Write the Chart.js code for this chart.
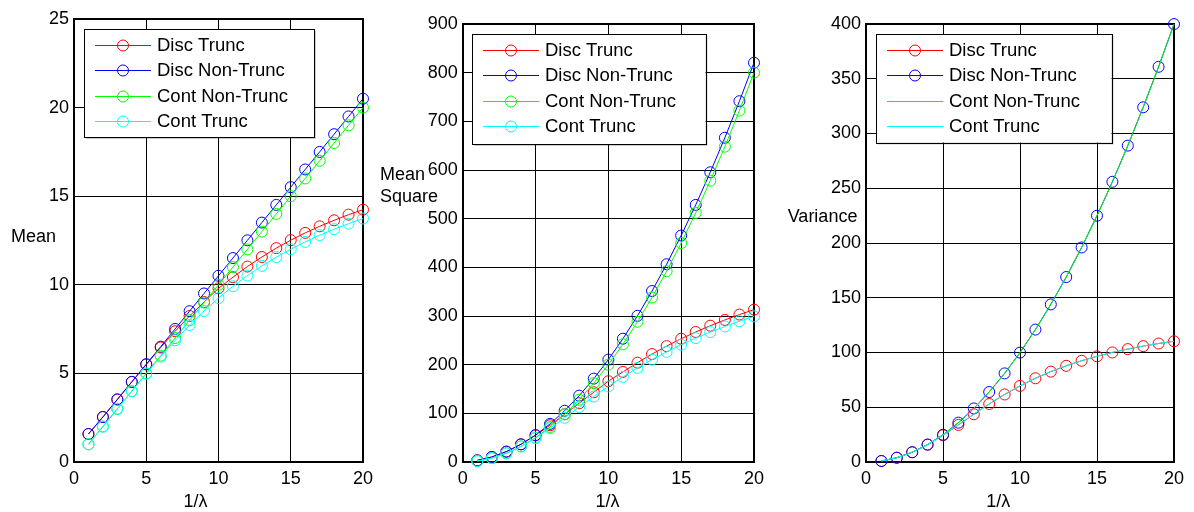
<!DOCTYPE html>
<html><head><meta charset="utf-8">
<script src="https://cdn.jsdelivr.net/npm/chart.js@4.4.1/dist/chart.umd.min.js"></script>
<style>
html,body{margin:0;padding:0;background:#fff}
body{width:1194px;height:512px;overflow:hidden;position:relative}
canvas{position:absolute;top:0}
</style></head><body>
<canvas id="c1" width="380" height="512" style="left:0px"></canvas>
<canvas id="c2" width="395" height="512" style="left:375px"></canvas>
<canvas id="c3" width="419" height="512" style="left:775px"></canvas>
<script>
// ---------- data ----------
const xValues = [1,2,3,4,5,6,7,8,9,10,11,12,13,14,15,16,17,18,19,20];
const seriesNames = ['Disc Trunc','Disc Non-Trunc','Cont Non-Trunc','Cont Trunc'];
const xTicks = [0,5,10,15,20];

const meanDiscTrunc    = [1.58,2.54,3.53,4.52,5.50,6.46,7.38,8.24,9.03,9.80,10.43,11.03,11.57,12.07,12.52,12.93,13.30,13.64,13.96,14.24];
const meanDiscNonTrunc = [1.58,2.54,3.53,4.52,5.52,6.51,7.51,8.51,9.51,10.51,11.51,12.51,13.51,14.51,15.51,16.51,17.50,18.50,19.50,20.50];
const meanContNonTrunc = [1,2,3,4,5,6,7,8,9,10,11,12,13,14,15,16,17,18,19,20];
const meanContTrunc    = [1.00,2.00,3.00,4.00,4.99,5.95,6.87,7.73,8.52,9.25,9.92,10.52,11.07,11.56,12.01,12.42,12.80,13.14,13.45,13.74];
const meanTicks = [0,5,10,15,20,25];

const msqDiscTrunc    = [3.42,10.38,21.35,36.26,54.65,75.63,98.05,120.86,143.28,166.0,185.11,204.12,221.77,238.11,253.23,267.17,280.03,291.94,302.97,313.13];
const msqDiscNonTrunc = [3.42,10.38,21.35,36.35,55.33,78.33,105.33,136.33,171.33,210.33,253.33,300.33,351.33,406.33,465.33,528.33,595.33,666.33,741.33,820.33];
const msqContNonTrunc = [2,8,18,32,50,72,98,128,162,200,242,288,338,392,450,512,578,648,722,800];
const msqContTrunc    = [2,8,18,31.91,49.33,69.35,90.86,112.80,134.44,155.22,174.88,193.29,210.40,226.25,240.92,254.45,266.95,278.52,289.24,299.14];
const msqTicks = [0,100,200,300,400,500,600,700,800,900];

const varDiscTrunc    = [0.92,3.92,8.92,15.84,24.36,33.86,43.59,52.98,61.66,69.49,76.43,82.53,87.83,92.46,96.51,100.04,103.10,105.81,108.20,110.26];
const varDiscNonTrunc = [0.92,3.92,8.92,15.92,24.92,35.92,48.92,63.92,80.92,99.92,120.92,143.92,168.92,195.92,224.92,255.92,288.92,323.92,360.92,399.92];
const varContNonTrunc = [1,4,9,16,25,36,49,64,81,100,121,144,169,196,225,256,289,324,361,400];
const varContTrunc    = [1,4,9,15.93,24.46,33.96,43.69,53.07,61.77,69.59,76.52,82.62,87.90,92.56,96.61,100.12,103.20,105.91,108.28,110.37];
const varTicks = [0,50,100,150,200,250,300,350,400];

// ---------- styling ----------
const COLORS = ['#ff0000','#0000ff','#00ff00','#00ffff'];
const FONT = "'Liberation Sans', Arial, Helvetica, sans-serif";
const FS = 18;
const LFS = 18.5;

function pts(arr){ return xValues.map((x,i)=>({x:x, y:arr[i]})); }

function makeDeco(cfg){
  return {
    id:'deco',
    beforeDatasetsDraw(chart){
      const {ctx, chartArea:a} = chart;
      ctx.save();
      ctx.strokeStyle='#000'; ctx.lineWidth=2;
      ctx.strokeRect(Math.round(a.left), Math.round(a.top), Math.round(a.right-a.left), Math.round(a.bottom-a.top));
      ctx.restore();
    },
    afterDraw(chart){
      const {ctx, chartArea:a} = chart;
      ctx.save();
      // legend
      const L = cfg.legend;
      const bx = Math.round(a.left + L.dx), by = Math.round(a.top + L.dy);
      ctx.fillStyle='rgba(0,0,0,0.2)';
      ctx.fillRect(bx+2, by+2, L.w, L.h);
      ctx.fillStyle='#fff';
      ctx.fillRect(bx, by, L.w, L.h);
      ctx.strokeStyle='#000'; ctx.lineWidth=1;
      ctx.strokeRect(bx+0.5, by+0.5, Math.round(L.w), Math.round(L.h));
      ctx.font = LFS+'px '+FONT;
      ctx.textBaseline='middle'; ctx.textAlign='left';
      chart.data.datasets.forEach((ds,i)=>{
        const y = Math.round(by + 15.5 + i*25.6) + 0.5;
        ctx.strokeStyle = COLORS[i]; ctx.lineWidth=1;
        ctx.beginPath(); ctx.moveTo(bx+11, y); ctx.lineTo(bx+67, y); ctx.stroke();
        if (ds.pointRadius > 0){
          ctx.beginPath(); ctx.arc(bx+39, y, 5.5, 0, Math.PI*2); ctx.stroke();
        }
        ctx.fillStyle='#000';
        ctx.fillText(ds.label, bx+73, y+0.5);
      });
      // axis titles
      ctx.font = FS+'px '+FONT;
      ctx.fillStyle='#000';
      ctx.textAlign='left';
      cfg.yTitles.forEach(t=>ctx.fillText(t.text, t.x, t.y));
      ctx.textAlign='center';
      ctx.fillText(cfg.xTitle.text, cfg.xTitle.x, cfg.xTitle.y);
      ctx.restore();
    }
  };
}

function makeChart(id, series, yTicks, geo, deco, contLinesOnly){
  const datasets = series.map((arr,i)=>{
    const lineOnly = contLinesOnly && i>=2;
    return {
      label: seriesNames[i],
      data: pts(arr),
      borderColor: COLORS[i],
      backgroundColor: 'rgba(0,0,0,0)',
      borderWidth: 1,
      pointRadius: lineOnly ? 0 : 5.5,
      pointBorderWidth: 1,
      pointBorderColor: COLORS[i],
      pointBackgroundColor: 'rgba(0,0,0,0)',
      tension: 0,
      cubicInterpolationMode: lineOnly ? 'monotone' : 'default',
      order: 4 - i,
      clip: false
    };
  });
  return new Chart(document.getElementById(id), {
    type:'line',
    data:{datasets},
    options:{
      responsive:false, animation:false, devicePixelRatio:1,
      events:[],
      layout:{padding:{left:0,right:geo.right,top:geo.top,bottom:0}},
      plugins:{legend:{display:false}, tooltip:{enabled:false}},
      scales:{
        x:{type:'linear', min:xTicks[0], max:xTicks[xTicks.length-1],
           afterBuildTicks(s){ s.ticks = xTicks.map(v=>({value:v})); },
           afterFit(s){ s.height = geo.xh; },
           grid:{color:'#000', lineWidth:1, drawTicks:false},
           border:{display:false},
           ticks:{color:'#000', font:{family:FONT, size:FS}, padding:6, maxRotation:0}},
        y:{type:'linear', min:yTicks[0], max:yTicks[yTicks.length-1],
           afterBuildTicks(s){ s.ticks = yTicks.map(v=>({value:v})); },
           afterFit(s){ s.width = geo.yw; },
           grid:{color:'#000', lineWidth:1, drawTicks:false},
           border:{display:false},
           ticks:{color:'#000', font:{family:FONT, size:FS}, padding:5}}
      }
    },
    plugins:[makeDeco(deco)]
  });
}

makeChart('c1', [meanDiscTrunc, meanDiscNonTrunc, meanContNonTrunc, meanContTrunc], meanTicks,
  {right:17, top:19, yw:74, xh:50},
  {legend:{dx:9.5,dy:9.5,w:230,h:108}, yTitles:[{text:'Mean',x:11,y:237}], xTitle:{text:'1/λ',x:195.5,y:502}}, false);

makeChart('c2', [msqDiscTrunc, msqDiscNonTrunc, msqContNonTrunc, msqContTrunc], msqTicks,
  {right:14.3, top:24, yw:87.7, xh:50},
  {legend:{dx:9.5,dy:9.5,w:233.5,h:110}, yTitles:[{text:'Mean',x:5,y:175},{text:'Square',x:5,y:197}], xTitle:{text:'1/λ',x:232.5,y:502}}, false);

makeChart('c3', [varDiscTrunc, varDiscNonTrunc, varContNonTrunc, varContTrunc], varTicks,
  {right:20, top:24, yw:91, xh:50},
  {legend:{dx:9.5,dy:9.5,w:235.5,h:108.5}, yTitles:[{text:'Variance',x:12.7,y:217}], xTitle:{text:'1/λ',x:223.3,y:502}}, true);
</script>
</body></html>
